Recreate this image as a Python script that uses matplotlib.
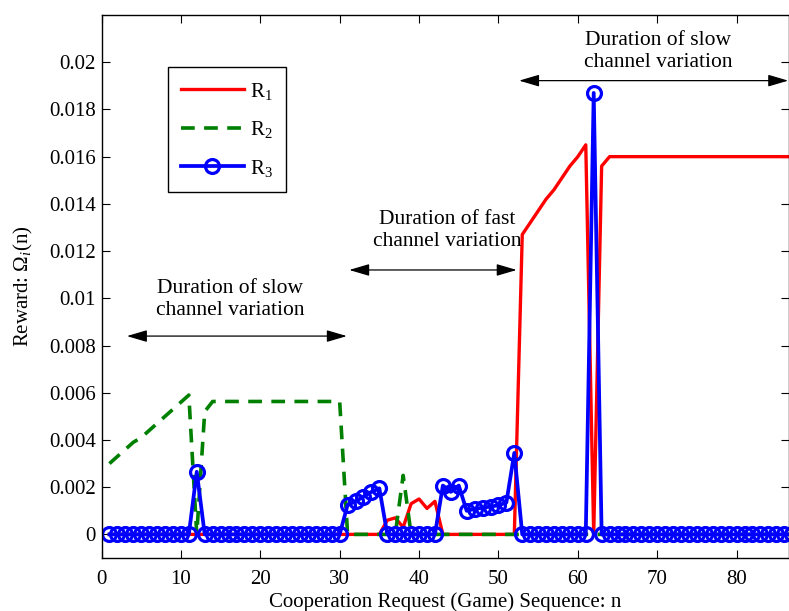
import numpy as np
import matplotlib
matplotlib.use("Agg")
import matplotlib.pyplot as plt

# game index
n = np.arange(1, 88)

# R1 values (non-zero entries)
r1_points = {
    36: 0.0006, 37: 0.0007, 38: 0.0003, 39: 0.0013, 40: 0.0015,
    41: 0.0011, 42: 0.0014,
    53: 0.0127, 54: 0.0132, 55: 0.0137, 56: 0.0142, 57: 0.0146,
    58: 0.0151, 59: 0.0156, 60: 0.0160, 61: 0.0165,
    63: 0.0156,
}
r1_flat_start = 64
r1_flat_value = 0.016

r2_points = {
    1: 0.0030, 2: 0.0033, 3: 0.0036, 4: 0.0039, 5: 0.0041, 6: 0.0044,
    7: 0.0047, 8: 0.0050, 9: 0.0053, 10: 0.0056, 11: 0.0059,
    13: 0.0052, 38: 0.0025,
}
r2_flat_range = (14, 30)
r2_flat_value = 0.00563

r3_points = {
    12: 0.00265,
    31: 0.00125, 32: 0.0014, 33: 0.0016, 34: 0.0018, 35: 0.00195,
    43: 0.00207, 44: 0.0018, 45: 0.00207,
    46: 0.0010, 47: 0.00108, 48: 0.00113, 49: 0.00118, 50: 0.00123,
    51: 0.00135, 52: 0.00345,
    62: 0.0187,
}

xticks = list(range(0, 90, 10))
yticks = [0, 0.002, 0.004, 0.006, 0.008, 0.01, 0.012, 0.014, 0.016, 0.018, 0.02]
ytick_labels = ["0", "0.002", "0.004", "0.006", "0.008", "0.01",
                "0.012", "0.014", "0.016", "0.018", "0.02"]

# (text, text x, text y, arrow start x, arrow end x, arrow y)
notes = [
    ("Duration of slow\nchannel variation", 16.2, 0.00996, 3.2, 30.9, 0.0084),
    ("Duration of fast\nchannel variation", 43.5, 0.01286, 31.2, 52.3, 0.0112),
    ("Duration of slow\nchannel variation", 70.1, 0.02044, 52.6, 86.5, 0.01922),
]


def build(points, length):
    y = np.zeros(length)
    for k, v in points.items():
        y[k - 1] = v
    return y


r1 = build(r1_points, len(n))
r1[r1_flat_start - 1:] = r1_flat_value
r2 = build(r2_points, len(n))
r2[r2_flat_range[0] - 1:r2_flat_range[1]] = r2_flat_value
r3 = build(r3_points, len(n))

plt.rcParams["font.family"] = ["Liberation Serif", "DejaVu Serif"]
plt.rcParams["mathtext.fontset"] = "custom"
plt.rcParams["mathtext.rm"] = "Liberation Serif"
plt.rcParams["mathtext.it"] = "Liberation Serif:italic"
plt.rcParams["font.size"] = 15

fig = plt.figure(figsize=(7.89, 6.11), dpi=100)
ax = fig.add_axes([101.5 / 789, 53 / 611, (789 - 101.5) / 789, 543 / 611])

ax.plot(n, r1, color="red", lw=2.4, label=r"R$_1$")
ax.plot(n, r2, color=(0, 0.5, 0), lw=2.6, dashes=(3.8, 2.6), label=r"R$_2$")
ax.plot(n, r3, color="blue", lw=2.7, marker="o", ms=10, mew=2.3,
        mfc="none", label=r"R$_3$")

for txt, tx, ty, x0, x1, ay in notes:
    ax.text(tx, ty, txt, ha="center", va="center", fontsize=15.5,
            linespacing=1.2)
    ax.annotate("", xy=(x1, ay), xytext=(x0, ay),
                arrowprops=dict(arrowstyle="<|-|>,head_length=0.95,head_width=0.28",
                                color="black", lw=0.9, mutation_scale=13,
                                shrinkA=0, shrinkB=0))

ax.set_xlim(0, 86.6)
ax.set_ylim(-0.001, 0.022)
ax.set_xticks(xticks)
ax.set_yticks(yticks)
ax.set_yticklabels(ytick_labels)
ax.tick_params(direction="in", top=True, right=True, length=5.5, width=0.8,
               labelsize=15)
ax.tick_params(axis="x", pad=9)
ax.tick_params(axis="y", pad=4)
for s in ax.spines.values():
    s.set_linewidth(1.0)

ax.set_xlabel("Cooperation Request (Game) Sequence: n", fontsize=15, labelpad=2)
ax.set_ylabel(r"Reward: $\Omega_i$(n)", fontsize=15, labelpad=10)

leg = ax.legend(loc="upper left", bbox_to_anchor=(0.096, 0.904),
                borderaxespad=0, fancybox=False, edgecolor="black",
                framealpha=1, handlelength=3.0, handletextpad=0.3,
                labelspacing=0.84, borderpad=0.65, fontsize=15)
leg.get_frame().set_linewidth(1.0)

fig.savefig("out.png", dpi=100)
